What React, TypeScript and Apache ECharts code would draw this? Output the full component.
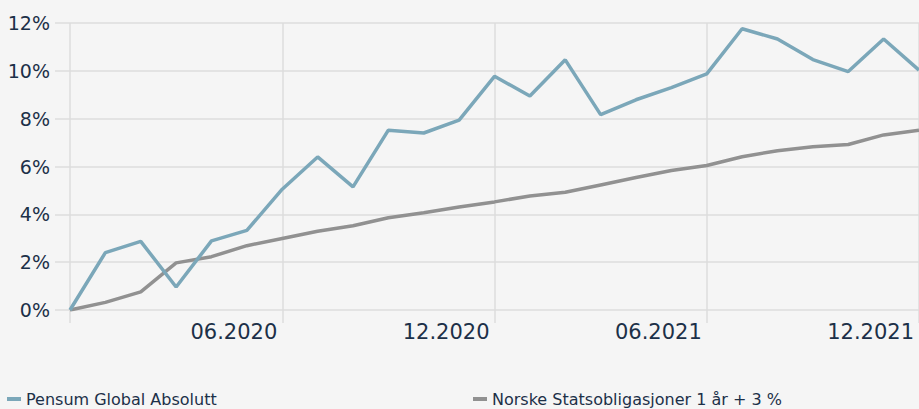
import React, { useEffect, useRef } from "react";
import * as echarts from "echarts";

const categories = [
  "12.2019", "01.2020", "02.2020", "03.2020", "04.2020", "05.2020", "06.2020",
  "07.2020", "08.2020", "09.2020", "10.2020", "11.2020", "12.2020",
  "01.2021", "02.2021", "03.2021", "04.2021", "05.2021", "06.2021",
  "07.2021", "08.2021", "09.2021", "10.2021", "11.2021", "12.2021",
];

const pensumValues = [
  0, 2.4, 2.87, 0.96, 2.89, 3.33, 5.05, 6.4, 5.15, 7.52, 7.4, 7.94, 9.77,
  8.95, 10.46, 8.17, 8.79, 9.3, 9.87, 11.76, 11.33, 10.47, 9.97, 11.33, 10.03,
];

const norskeValues = [
  0, 0.32, 0.76, 1.97, 2.23, 2.69, 2.99, 3.29, 3.52, 3.86, 4.07, 4.31, 4.52,
  4.77, 4.92, 5.23, 5.54, 5.83, 6.04, 6.41, 6.66, 6.83, 6.92, 7.32, 7.52,
];

const yTicks = [0, 2, 4, 6, 8, 10, 12];

const seriesNames = ["Pensum Global Absolutt", "Norske Statsobligasjoner 1 år + 3 %"];

const BLUE = "#7ba7b9";
const GRAY = "#919191";
const TEXT = "#1c3048";
const GRID = "#dddddd";
const FONT = "DejaVu Sans";

export default function App() {
  const ref = useRef<HTMLDivElement>(null);

  useEffect(() => {
    document.body.style.margin = "0";
    document.body.style.background = "#f5f5f5";
    if (!ref.current) return;
    const chart = echarts.init(ref.current, undefined, { renderer: "svg" });
    const legendText = { fontFamily: FONT, fontSize: 16, color: TEXT };
    chart.setOption({
      animation: false,
      backgroundColor: "#f5f5f5",
      textStyle: { fontFamily: FONT, color: TEXT },
      grid: { left: 70, right: -3, top: 23, bottom: 99, containLabel: false },
      legend: [
        {
          data: [seriesNames[0]],
          left: 7,
          top: 391,
          padding: 0,
          icon: "rect",
          itemWidth: 14,
          itemHeight: 4,
          textStyle: legendText,
        },
        {
          data: [seriesNames[1]],
          left: 473,
          top: 391,
          padding: 0,
          icon: "rect",
          itemWidth: 14,
          itemHeight: 4,
          textStyle: legendText,
        },
      ],
      xAxis: {
        type: "category",
        data: categories,
        boundaryGap: false,
        axisLine: { show: false },
        axisTick: {
          show: true,
          length: 13,
          interval: (i: number) => i % 6 === 0,
          lineStyle: { color: GRID, width: 1.5 },
        },
        splitLine: {
          show: true,
          interval: (i: number) => i % 6 === 0,
          lineStyle: { color: GRID, width: 1.5 },
        },
        axisLabel: {
          interval: (i: number) => i % 6 === 0 && i > 0,
          align: "right",
          padding: [0, 5, 0, 0],
          margin: 11,
          fontSize: 21,
          fontFamily: FONT,
          color: TEXT,
        },
      },
      yAxis: {
        type: "value",
        min: yTicks[0],
        max: yTicks[yTicks.length - 1],
        interval: 2,
        axisLine: { show: false },
        axisTick: { show: true, length: 15, lineStyle: { color: GRID, width: 1.5 } },
        splitLine: { show: true, lineStyle: { color: GRID, width: 1.5 } },
        axisLabel: {
          formatter: "{value}%",
          margin: 20,
          fontSize: 19,
          fontFamily: FONT,
          color: TEXT,
        },
      },
      series: [
        {
          name: seriesNames[0],
          type: "line",
          data: pensumValues,
          symbol: "none",
          lineStyle: { color: BLUE, width: 3.5 },
          itemStyle: { color: BLUE },
          z: 3,
        },
        {
          name: seriesNames[1],
          type: "line",
          data: norskeValues,
          symbol: "none",
          lineStyle: { color: GRAY, width: 3.5 },
          itemStyle: { color: GRAY },
          z: 2,
        },
      ],
    });
    return () => chart.dispose();
  }, []);

  return <div ref={ref} style={{ width: 919, height: 409 }} />;
}
